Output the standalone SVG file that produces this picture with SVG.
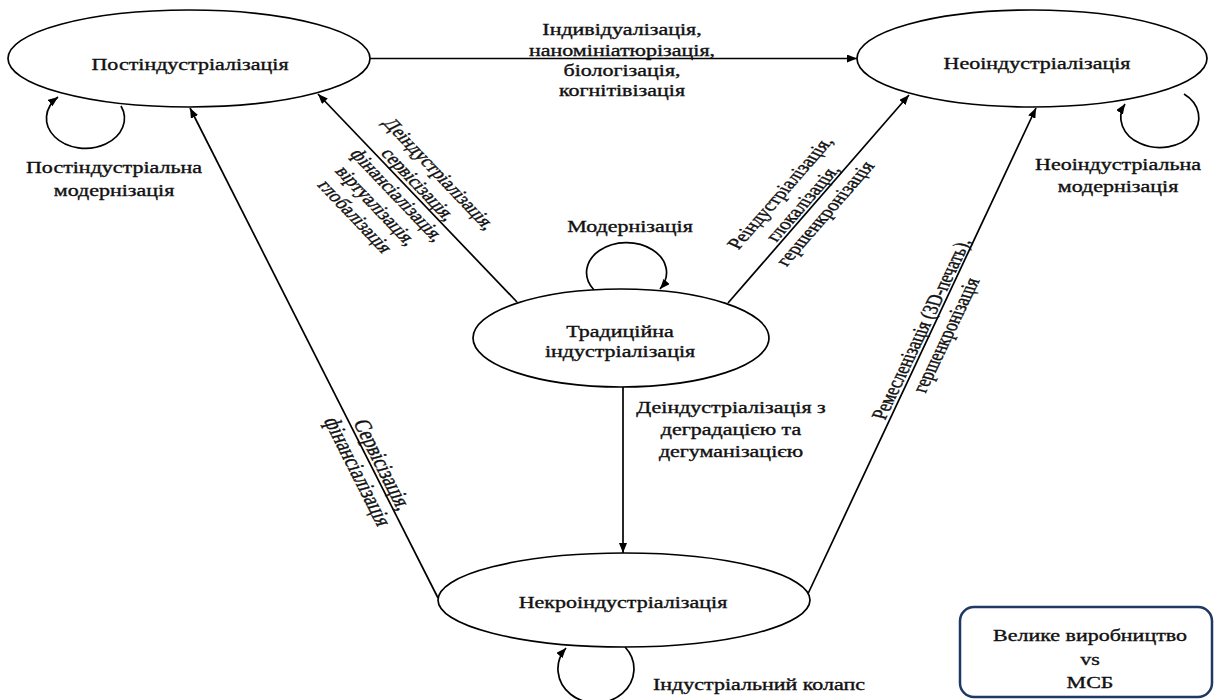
<svg xmlns="http://www.w3.org/2000/svg" width="1215" height="700" viewBox="0 0 1215 700">
<style>
.n{fill:#fff;stroke:#000;stroke-width:1.7}
.c{fill:none;stroke:#000;stroke-width:1.7;marker-end:url(#ah)}
text{font-family:"Liberation Serif","Times New Roman",serif;font-size:16px;fill:#111;stroke:#111;stroke-width:0.35}
.m{text-anchor:middle}
.big{font-size:17.5px}
.box{fill:#fff;stroke:#1f3864;stroke-width:2.5}
</style>
<defs>
<marker id="ah" viewBox="0 0 10 10" refX="10" refY="5" markerWidth="10" markerHeight="8" markerUnits="userSpaceOnUse" orient="auto" preserveAspectRatio="none"><path d="M0,0 L10,5 L0,10 z" fill="#000"/></marker>
</defs>
<rect width="1215" height="700" fill="#fff"/>
<g id="connectors">
<line class="c" x1="370" y1="58.5" x2="857" y2="58.5"/>
<line class="c" x1="517" y1="302" x2="318" y2="94"/>
<line class="c" x1="438" y1="598" x2="190" y2="108"/>
<line class="c" x1="728" y1="303" x2="909" y2="95"/>
<line class="c" x1="806" y1="598" x2="1036" y2="108"/>
<line class="c" x1="623" y1="387" x2="623" y2="553"/>
<path class="c" d="M121,106 A39,30 0 1,1 58,97"/>
<path class="c" d="M1184,94 A39,30 0 1,1 1125,104"/>
<path class="c" d="M594,290 A40,30 0 1,1 660,289"/>
<path class="c" d="M625,647 A38,34 0 1,1 566,648"/>
</g>
<g id="node-post">
<ellipse class="n" cx="189" cy="58.5" rx="181" ry="48.5"/>
<text class="m" transform="translate(190,70) scale(1.375,1)">Постіндустріалізація</text>
</g>
<g id="node-neo">
<ellipse class="n" cx="1032" cy="58.5" rx="175" ry="48.5"/>
<text class="m" transform="translate(1037,69) scale(1.375,1)">Неоіндустріалізація</text>
</g>
<g id="node-trad">
<ellipse class="n" cx="621" cy="338" rx="148" ry="49"/>
<text class="m" transform="translate(620,0) scale(1.375,1)"><tspan x="0" y="337">Традиційна</tspan><tspan x="0" y="357">індустріалізація</tspan></text>
</g>
<g id="node-necro">
<ellipse class="n" cx="624" cy="600" rx="186" ry="47"/>
<text class="m" transform="translate(623,608) scale(1.375,1)">Некроіндустріалізація</text>
</g>
<g id="node-box">
<rect class="box" x="960" y="607" width="252" height="90" rx="14"/>
<text class="m" transform="translate(1090,0) scale(1.375,1)"><tspan x="0" y="641">Велике виробництво</tspan><tspan x="0" y="665">vs</tspan><tspan x="0" y="688">МСБ</tspan></text>
</g>
<g id="labels">
<text class="m" transform="translate(622,0) scale(1.375,1)"><tspan x="0" y="35">Індивідуалізація,</tspan><tspan x="0" y="56">наномініатюрізація,</tspan><tspan x="0" y="76">біологізація,</tspan><tspan x="0" y="96">когнітівізація</tspan></text>
<text class="m" transform="translate(630,232) scale(1.375,1)">Модернізація</text>
<text class="m" transform="translate(731,0) scale(1.375,1)"><tspan x="0" y="413">Деіндустріалізація з</tspan><tspan x="0" y="435">деградацією та</tspan><tspan x="0" y="457">дегуманізацією</tspan></text>
<text class="m" transform="translate(114,0) scale(1.375,1)"><tspan x="0" y="173">Постіндустріальна</tspan><tspan x="0" y="196">модернізація</tspan></text>
<text class="m" transform="translate(1118,0) scale(1.375,1)"><tspan x="0" y="170">Неоіндустріальна</tspan><tspan x="0" y="192">модернізація</tspan></text>
<text transform="translate(653,690) scale(1.375,1)">Індустріальний колапс</text>
<text class="m" transform="translate(398,195) scale(1.375,1) rotate(55.2)"><tspan x="0" y="-31.8">Деіндустріалізація,</tspan><tspan x="0" y="-13.1">сервісізація,</tspan><tspan x="0" y="5.6">фінансіалізація,</tspan><tspan x="0" y="24.3">віртуалізація,</tspan><tspan x="0" y="43">глобалізація</tspan></text>
<text class="m" transform="translate(802,203) scale(1.375,1) rotate(-57.6)"><tspan x="0" y="-13.7">Реіндустріалізація,</tspan><tspan x="0" y="5.6">глокалізація,</tspan><tspan x="0" y="24.9">гершенкронізація</tspan></text>
<text class="m" transform="translate(933,332) scale(1.375,1) rotate(-70.8)"><tspan x="0" y="-3.9">Ремесленізація (3D-печать),</tspan><tspan x="0" y="15.1">гершенкронізація</tspan></text>
<text class="m big" transform="translate(370.5,468.3) scale(1.375,1) rotate(69.8)"><tspan x="0" y="-3.9">Сервісізація,</tspan><tspan x="0" y="15.5">фінансіалізація</tspan></text>
</g>
</svg>
